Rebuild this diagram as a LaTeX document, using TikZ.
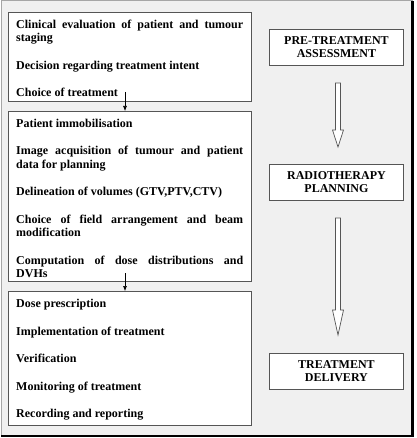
\documentclass[tikz,border=0pt]{standalone}
\usepackage{fontspec}
\setmainfont{Liberation Serif}
\usetikzlibrary{arrows.meta,calc}
\definecolor{bgfill}{HTML}{F0F0F0}
\definecolor{boxline}{HTML}{555555}
\tikzset{
  stagebox/.style={draw=boxline, line width=0.9pt, fill=white},
  phasebox/.style={draw=boxline, line width=0.9pt, fill=white, minimum width=134pt, minimum height=36pt, align=center, inner sep=0pt, font=\fontsize{12}{13}\selectfont\bfseries},
  listtext/.style={anchor=north west, inner sep=0pt, font=\fontsize{12}{13.5}\selectfont\bfseries},
  smallarrow/.style={-{Latex[length=5pt,width=4pt]}, line width=0.6pt, black},
  hollow/.style={draw=boxline, line width=0.7pt, fill=white}
}
\newcommand{\listpar}[1]{\parbox[t]{227pt}{\hyphenpenalty=10000\exhyphenpenalty=10000\baselineskip=13.5pt\parskip=14pt\relax #1}}
\begin{document}
\begin{tikzpicture}[x=1pt,y=-1pt]
\useasboundingbox (0,0) rectangle (416,438);
% outer frame
\fill[bgfill] (1,1) rectangle (413,436);
\draw[gray!70, line width=1pt] (1,436) -- (1,1) -- (413,1);
\draw[black, line width=2.5pt] (412.5,1) -- (412.5,436) -- (1,436);
% left boxes
\node[stagebox, minimum width=243pt, minimum height=89pt, anchor=north west, inner sep=0pt] (b1) at (8,12) {};
\node[stagebox, minimum width=243pt, minimum height=170pt, anchor=north west, inner sep=0pt] (b2) at (8,111) {};
\node[stagebox, minimum width=243pt, minimum height=134pt, anchor=north west, inner sep=0pt] (b3) at (8,291) {};
\node[listtext] (t1) at (16,19.5) {\listpar{Clinical evaluation of patient and tumour staging\par Decision regarding treatment intent\par Choice of treatment}};
\node[listtext] (t2) at (16,118.5) {\listpar{Patient immobilisation\par Image acquisition of tumour and patient\linebreak data for planning\par Delineation of volumes (GTV,PTV,CTV)\par Choice of field arrangement and beam modification\par Computation of dose distributions and\linebreak DVHs}};
\node[listtext] (t3) at (16,299) {\listpar{Dose prescription\par Implementation of treatment\par Verification\par Monitoring of treatment\par Recording and reporting}};
% small arrows
\coordinate (a1s) at (125,92);
\coordinate (a2s) at (125,273);
\draw[smallarrow] (a1s) -- (a1s |- b2.north);
\draw[smallarrow] (a2s) -- (a2s |- b3.north);
% right boxes
\node[phasebox, anchor=north west] (p1) at (269,29) {PRE-TREATMENT\\ASSESSMENT};
\node[phasebox, anchor=north west] (p2) at (269,164) {RADIOTHERAPY\\PLANNING};
\node[phasebox, anchor=north west] (p3) at (269,353) {TREATMENT\\DELIVERY};
% hollow arrows
\coordinate (h1s) at (338,83);
\coordinate (h1e) at (338,147);
\coordinate (h2s) at (338,218);
\coordinate (h2e) at (338,335);
\draw[hollow] ($(h1s)+(-2.5,0)$) -- ($(h1s)+(2.5,0)$) -- ($(h1e)+(2.5,-17)$) -- ($(h1e)+(5.5,-17)$) -- (h1e) -- ($(h1e)+(-5.5,-17)$) -- ($(h1e)+(-2.5,-17)$) -- cycle;
\draw[hollow] ($(h2s)+(-2.5,0)$) -- ($(h2s)+(2.5,0)$) -- ($(h2e)+(2.5,-25)$) -- ($(h2e)+(5.5,-25)$) -- (h2e) -- ($(h2e)+(-5.5,-25)$) -- ($(h2e)+(-2.5,-25)$) -- cycle;
\end{tikzpicture}
\end{document}
